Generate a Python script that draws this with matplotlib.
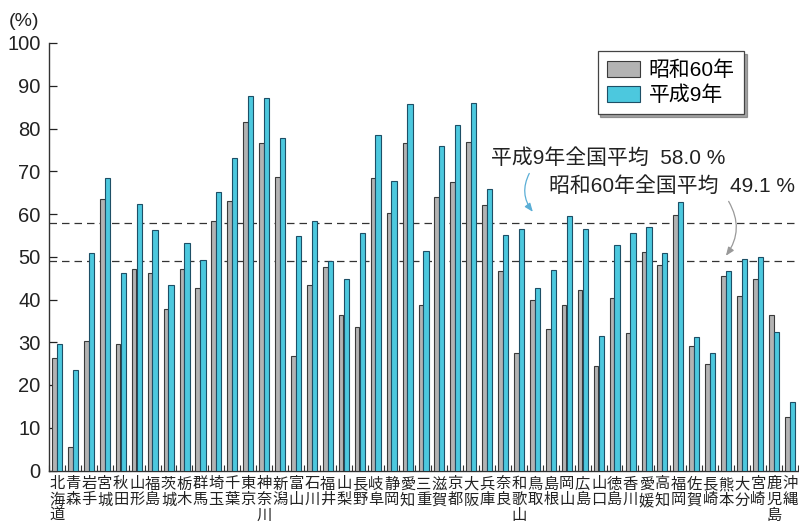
import matplotlib
matplotlib.use("Agg")
import matplotlib.pyplot as plt
import numpy as np

plt.rcParams['font.family'] = ['Liberation Sans', 'Noto Sans CJK JP', 'DejaVu Sans']

prefectures = ["北海道", "青森", "岩手", "宮城", "秋田", "山形", "福島", "茨城", "栃木", "群馬",
               "埼玉", "千葉", "東京", "神奈川", "新潟", "富山", "石川", "福井", "山梨", "長野",
               "岐阜", "静岡", "愛知", "三重", "滋賀", "京都", "大阪", "兵庫", "奈良", "和歌山",
               "鳥取", "島根", "岡山", "広島", "山口", "徳島", "香川", "愛媛", "高知", "福岡",
               "佐賀", "長崎", "熊本", "大分", "宮崎", "鹿児島", "沖縄"]

showa60 = [26.2, 5.6, 30.2, 63.4, 29.6, 47.1, 46.1, 37.8, 47.1, 42.7,
           58.3, 63.0, 81.6, 76.6, 68.7, 26.7, 43.5, 47.5, 36.4, 33.5,
           68.4, 60.2, 76.5, 38.8, 63.9, 67.6, 76.8, 62.0, 46.6, 27.6,
           39.9, 33.1, 38.6, 42.2, 24.5, 40.3, 32.2, 51.0, 48.1, 59.7,
           29.1, 24.8, 45.4, 40.9, 44.8, 36.4, 12.6]

heisei9 = [29.7, 23.4, 50.8, 68.4, 46.1, 62.3, 56.2, 43.5, 53.2, 49.2,
           65.2, 73.1, 87.5, 87.1, 77.7, 54.8, 58.3, 49.1, 44.9, 55.5,
           78.5, 67.8, 85.8, 51.4, 75.9, 80.8, 85.9, 65.8, 55.0, 56.5,
           42.8, 46.9, 59.6, 56.5, 31.5, 52.7, 55.5, 56.9, 50.9, 62.9,
           31.3, 27.4, 46.7, 49.4, 50.0, 32.5, 16.0]

avg_heisei9 = 58.0
avg_showa60 = 49.1
series_names = ["昭和60年", "平成9年"]

W, H = 799, 524
fig = plt.figure(figsize=(W / 100, H / 100), dpi=100)
ax_left, ax_right = 49, 799
ax_top, ax_bottom = 43, 470.5
ax = fig.add_axes([ax_left / W, 1 - ax_bottom / H, (ax_right - ax_left) / W, (ax_bottom - ax_top) / H])

x = np.arange(len(prefectures))
gray_face = '#b3b3b3'
gray_edge = '#3a3a3a'
cyan_face = '#4cc8de'
cyan_edge = '#1d4f66'

ax.bar(x - 0.16, showa60, width=0.29, color=gray_face, edgecolor=gray_edge, linewidth=0.8,
       label=series_names[0], zorder=3)
ax.bar(x + 0.16, heisei9, width=0.33, color=cyan_face, edgecolor=cyan_edge, linewidth=0.8,
       label=series_names[1], zorder=3)

ax.axhline(avg_heisei9, color='#333333', linestyle=(0, (6, 4)), linewidth=0.9, zorder=2)
ax.axhline(avg_showa60, color='#333333', linestyle=(0, (6, 4)), linewidth=0.9, zorder=2)

ax.set_xlim(-0.41, 46.58)
ax.set_ylim(0, 100)
ax.set_yticks(np.arange(0, 101, 10))
ax.tick_params(axis='y', direction='in', length=6, width=0.9, labelsize=14.5, pad=6, colors='#222222')

ax.set_xticks(x)
ax.set_xticklabels(["\n".join(p) for p in prefectures], fontsize=11, linespacing=1.15,
                   va='top', color='#222222')
ax.tick_params(axis='x', which='major', length=0, pad=5)
ax.set_xticks(np.arange(-0.5, 46.6, 1), minor=True)
ax.tick_params(axis='x', which='minor', direction='in', length=4, width=0.8, color='#333333')

for s in ['top', 'right']:
    ax.spines[s].set_visible(False)
for s in ['left', 'bottom']:
    ax.spines[s].set_linewidth(1.0)
    ax.spines[s].set_color('#333333')

fig.text(24 / W, 1 - 21 / H, "(%)", fontsize=14, ha='center', va='center', color='#222222')

leg = ax.legend(loc='upper right', bbox_to_anchor=((744 - ax_left) / (ax_right - ax_left),
                (ax_bottom - 51) / (ax_bottom - ax_top)),
                borderaxespad=0,
                fontsize=15, frameon=True, fancybox=False, shadow=True,
                handlelength=1.6, handleheight=0.8, handletextpad=0.4,
                borderpad=0.45, labelspacing=0.25, edgecolor='#444444')
leg.get_frame().set_linewidth(0.9)


def px2data(px, py):
    return ((px - 55.5) / 15.96, (ax_bottom - py) / 4.275)


t1 = px2data(490, 158)
ax.text(t1[0], t1[1], "平成9年全国平均  58.0 %", fontsize=15, ha='left', va='center', color='#222222')
t2 = px2data(548, 186)
ax.text(t2[0], t2[1], "昭和60年全国平均  49.1 %", fontsize=15, ha='left', va='center', color='#222222')

ax.annotate("", xy=px2data(534, 214), xytext=px2data(530, 171),
            arrowprops=dict(arrowstyle='-|>,head_length=0.5,head_width=0.2', color='#5aaed6',
                            lw=0.9, connectionstyle='arc3,rad=0.35'))
ax.annotate("", xy=px2data(724, 258), xytext=px2data(727, 199),
            arrowprops=dict(arrowstyle='-|>,head_length=0.5,head_width=0.2', color='#999999',
                            lw=0.9, connectionstyle='arc3,rad=-0.35'))

fig.savefig("out.png", dpi=100)
